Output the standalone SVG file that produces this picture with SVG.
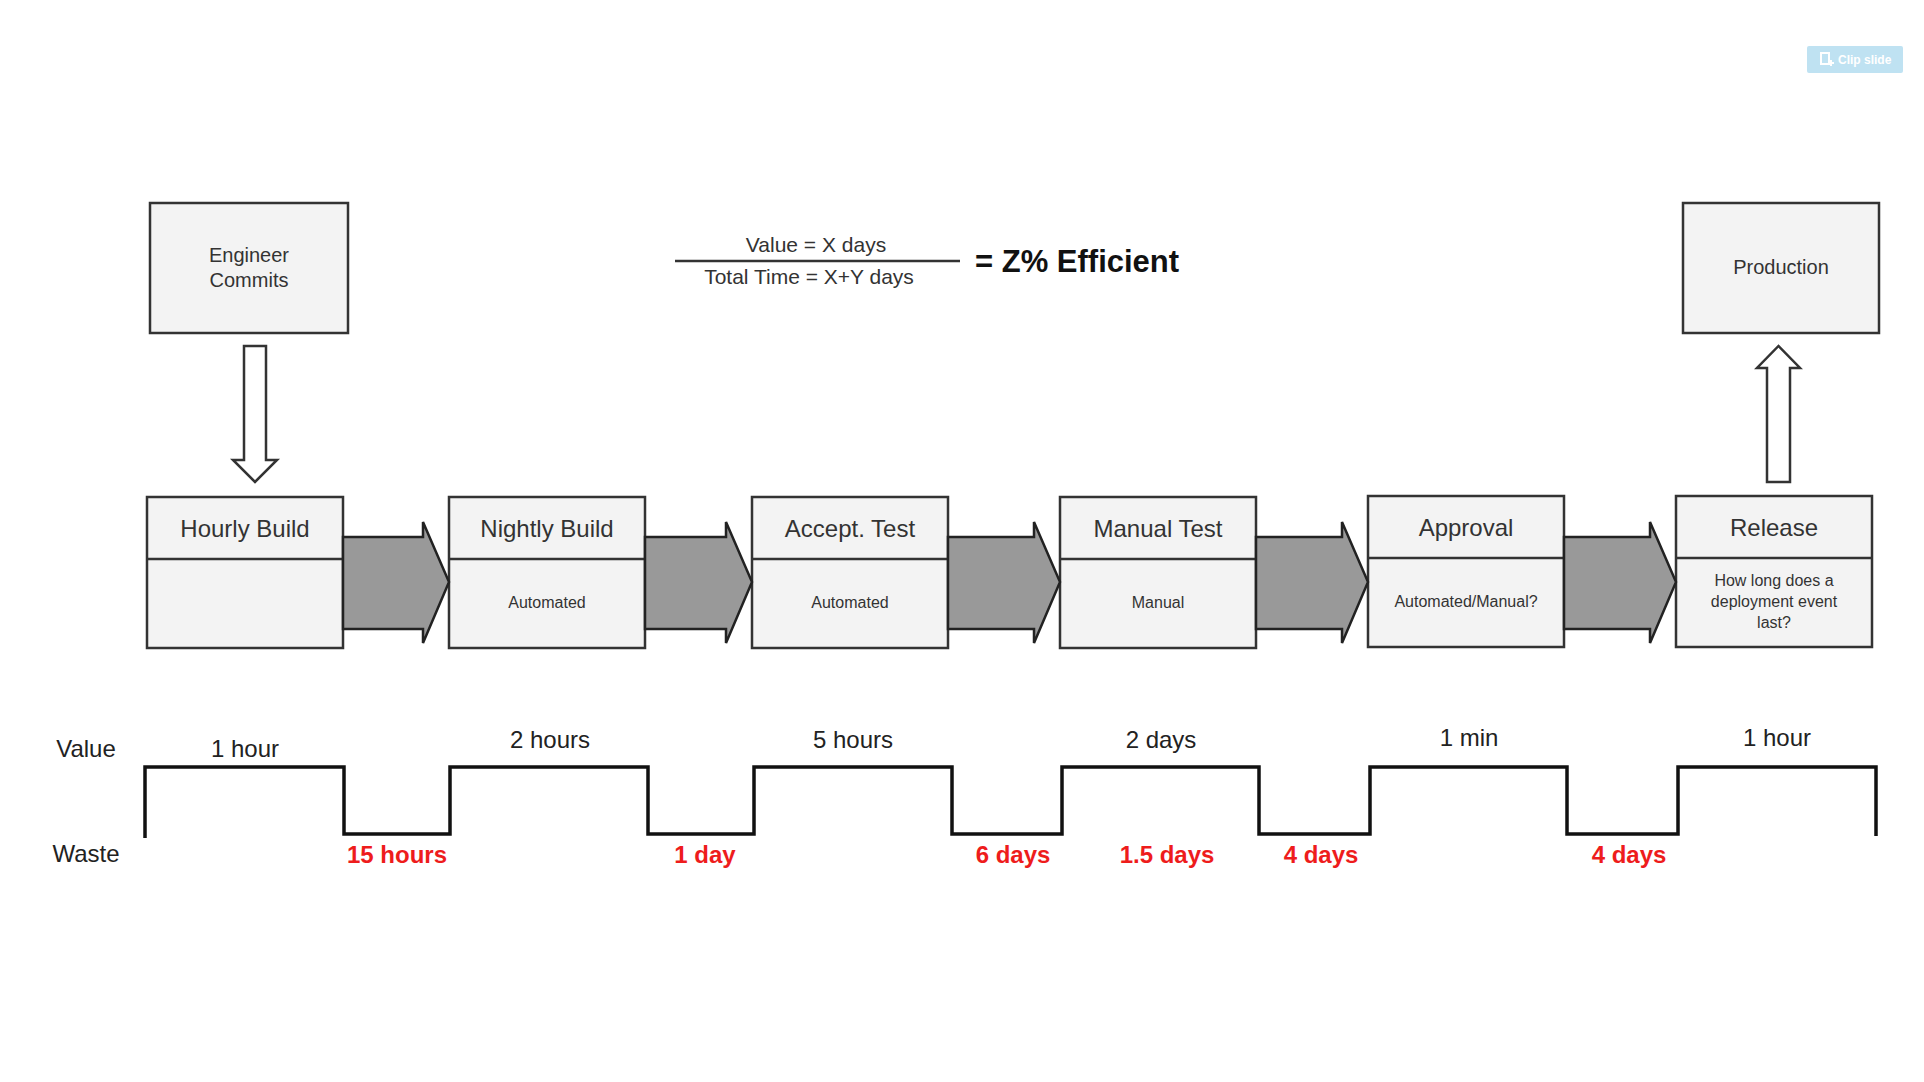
<svg xmlns="http://www.w3.org/2000/svg" width="1924" height="1082" viewBox="0 0 1924 1082">
<style>
text{font-family:"Liberation Sans",Arial,sans-serif;fill:#333}
.box{fill:#f3f3f3;stroke:#333;stroke-width:2.5}
.div{stroke:#333;stroke-width:2.5}
.t{font-size:24px;text-anchor:middle}
.s{font-size:16px;text-anchor:middle}
.n{font-size:20px;text-anchor:middle}
.flow{fill:#999;stroke:#222;stroke-width:2.5;stroke-linejoin:miter}
.hollow{fill:#fff;stroke:#333;stroke-width:2.5}
.lbl{font-size:24px;text-anchor:middle;fill:#222}
.red{font-size:24px;font-weight:bold;text-anchor:middle;fill:#ee1c1c}
.wave{fill:none;stroke:#111;stroke-width:3.5}
</style>
<rect width="1924" height="1082" fill="#fff"/>

<g id="clip-slide">
<rect x="1807" y="46" width="96" height="27" rx="2" fill="#bfe2f2"/>
<rect x="1821" y="53" width="8" height="11" fill="none" stroke="#fff" stroke-width="2"/>
<path d="M1828 63h6M1831 60v6" stroke="#fff" stroke-width="2"/>
<text x="1838" y="64" style="font-size:12px;font-weight:bold;fill:#fff">Clip slide</text>
</g>

<g id="engineer-commits">
<rect class="box" x="150" y="203" width="198" height="130"/>
<text class="n" x="249" y="262">Engineer</text>
<text class="n" x="249" y="287">Commits</text>
</g>

<g id="production">
<rect class="box" x="1683" y="203" width="196" height="130"/>
<text class="n" x="1781" y="274">Production</text>
</g>

<g id="formula">
<text x="816" y="252" style="font-size:21px;text-anchor:middle">Value = X days</text>
<line x1="675" y1="261" x2="960" y2="261" stroke="#333" stroke-width="2.5"/>
<text x="809" y="284" style="font-size:21px;text-anchor:middle">Total Time = X+Y days</text>
<text x="975" y="272" style="font-size:31px;font-weight:bold;fill:#111">= Z% Efficient</text>
</g>

<g id="hourly-build">
<rect class="box" x="147" y="497" width="196" height="151"/>
<line class="div" x1="147" y1="559" x2="343" y2="559"/>
<text class="t" x="245" y="537">Hourly Build</text>
</g>
<g id="nightly-build">
<rect class="box" x="449" y="497" width="196" height="151"/>
<line class="div" x1="449" y1="559" x2="645" y2="559"/>
<text class="t" x="547" y="537">Nightly Build</text>
<text class="s" x="547" y="608">Automated</text>
</g>
<g id="accept-test">
<rect class="box" x="752" y="497" width="196" height="151"/>
<line class="div" x1="752" y1="559" x2="948" y2="559"/>
<text class="t" x="850" y="537">Accept. Test</text>
<text class="s" x="850" y="608">Automated</text>
</g>
<g id="manual-test">
<rect class="box" x="1060" y="497" width="196" height="151"/>
<line class="div" x1="1060" y1="559" x2="1256" y2="559"/>
<text class="t" x="1158" y="537">Manual Test</text>
<text class="s" x="1158" y="608">Manual</text>
</g>
<g id="approval">
<rect class="box" x="1368" y="496" width="196" height="151"/>
<line class="div" x1="1368" y1="558" x2="1564" y2="558"/>
<text class="t" x="1466" y="536">Approval</text>
<text class="s" x="1466" y="607">Automated/Manual?</text>
</g>
<g id="release">
<rect class="box" x="1676" y="496" width="196" height="151"/>
<line class="div" x1="1676" y1="558" x2="1872" y2="558"/>
<text class="t" x="1774" y="536">Release</text>
<text class="s" x="1774" y="586">How long does a</text>
<text class="s" x="1774" y="607">deployment event</text>
<text class="s" x="1774" y="628">last?</text>
</g>

<g id="connectors">
<path class="hollow" d="M244 346H266V460H277L255 482L233 460H244Z"/>
<path class="hollow" d="M1767 482V368H1757L1778.5 346L1800 368H1790V482Z"/>
<path class="flow" d="M343 537H423V522L449 582L423 643V629H343Z"/>
<path class="flow" d="M645 537H726V522L752 582L726 643V629H645Z"/>
<path class="flow" d="M948 537H1034V522L1060 582L1034 643V629H948Z"/>
<path class="flow" d="M1256 537H1342V522L1368 582L1342 643V629H1256Z"/>
<path class="flow" d="M1564 537H1650V522L1676 582L1650 643V629H1564Z"/>
</g>

<g id="timeline">
<text class="lbl" x="86" y="757">Value</text>
<text class="lbl" x="86" y="862">Waste</text>
<path class="wave" d="M145 838V767H344V834H450V767H648V834H754V767H952V834H1062V767H1259V834H1370V767H1567V834H1678V767H1876V836"/>
<text class="lbl" x="245" y="757">1 hour</text>
<text class="lbl" x="550" y="748">2 hours</text>
<text class="lbl" x="853" y="748">5 hours</text>
<text class="lbl" x="1161" y="748">2 days</text>
<text class="lbl" x="1469" y="746">1 min</text>
<text class="lbl" x="1777" y="746">1 hour</text>
<text class="red" x="397" y="863">15 hours</text>
<text class="red" x="705" y="863">1 day</text>
<text class="red" x="1013" y="863">6 days</text>
<text class="red" x="1167" y="863">1.5 days</text>
<text class="red" x="1321" y="863">4 days</text>
<text class="red" x="1629" y="863">4 days</text>
</g>
</svg>
